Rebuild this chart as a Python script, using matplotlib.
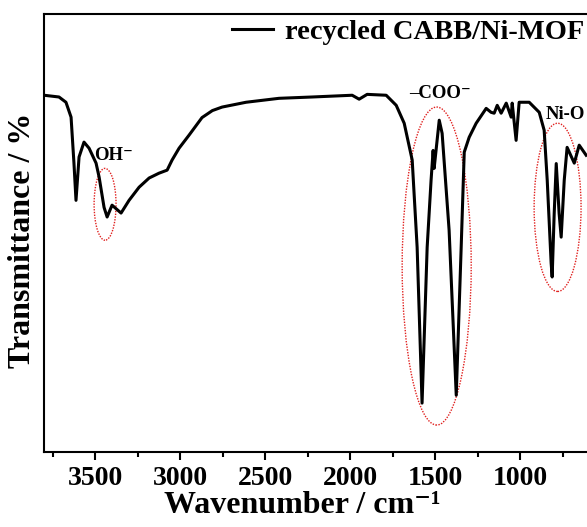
"""FTIR spectrum of recycled CABB/Ni-MOF with marked bands."""
import numpy as np
import matplotlib
matplotlib.use("Agg")
import matplotlib.pyplot as plt
from matplotlib.patches import Ellipse
from matplotlib.ticker import FixedLocator, MultipleLocator

plt.rcParams["font.family"] = ["Liberation Serif", "DejaVu Serif"]
plt.rcParams["font.weight"] = "bold"

# spectrum (wavenumber cm-1, transmittance in arbitrary %)
wavenumber = [3800, 3712, 3671, 3641, 3624, 3612, 3594, 3565, 3535, 3494,
              3476, 3447, 3429, 3400, 3347, 3300, 3241, 3182, 3124, 3076,
              3047, 3006, 2947, 2871, 2810, 2753, 2612, 2418, 2224, 1988, 1947,
              1900, 1788, 1729, 1682, 1635, 1606, 1577, 1547, 1524, 1512,
              1506, 1476, 1459, 1418, 1376, 1347, 1329, 1300, 1259, 1200,
              1171, 1153, 1135, 1112, 1082, 1053, 1047, 1024, 1006, 947,
              888, 859, 841, 818, 812, 800, 788, 771, 759, 741,
              724, 682, 653, 612]
transmittance = [81.5, 81.1, 79.9, 76.5, 66.0, 57.5, 67.4, 70.8, 69.4, 66.0,
                 62.8, 55.9, 53.7, 56.4, 54.6, 57.5, 60.5, 62.6, 63.7, 64.4,
                 66.7, 69.4, 72.4, 76.4, 78.0, 78.8, 79.9, 80.8, 81.1, 81.5, 80.6,
                 81.7, 81.5, 79.2, 75.1, 66.7, 46.8, 11.2, 46.8, 62.1, 68.9,
                 64.8, 75.8, 72.8, 50.7, 13.0, 46.8, 68.5, 71.9, 75.1, 78.5,
                 77.6, 77.4, 79.2, 77.4, 79.7, 76.5, 79.7, 71.2, 79.9, 79.9,
                 77.6, 73.5, 62.1, 43.2, 40.0, 54.5, 65.9, 54.5, 49.1, 62.1,
                 69.6, 66.0, 70.1, 67.8]

# band labels and their marking ellipses (center x, center y, width, height)
band_labels = ["OH⁻", "–COO⁻", "Ni-O"]
label_pos = [(3390, 67.8), (1470, 82.0), (735, 77.0)]
ellipses = [(3441, 56.6, 129, 16.4), (1491, 42.5, 406, 72.6), (780, 55.9, 276, 38.4)]
major_ticks = [3500, 3000, 2500, 2000, 1500, 1000]

fig = plt.figure(figsize=(5.87, 5.27), dpi=100)
ax = fig.add_axes([0.075, 0.142, 0.985, 0.831])

ax.plot(wavenumber, transmittance, color="black", lw=2.2,
        solid_joinstyle="round", label="recycled CABB/Ni-MOF")

for (cx, cy, w, h) in ellipses:
    ax.add_patch(Ellipse((cx, cy), w, h, fill=False, edgecolor="#e0201e",
                         ls=(0, (1, 1)), lw=1.0))
for txt, (x, y) in zip(band_labels, label_pos):
    ax.text(x, y, txt, ha="center", va="center", fontsize=13.5, fontweight="bold")

ax.set_xlim(3800, 400)
ax.set_ylim(0, 100)
ax.xaxis.set_major_locator(FixedLocator(major_ticks))
ax.xaxis.set_minor_locator(MultipleLocator(250))
ax.set_yticks([])
ax.spines["right"].set_visible(False)
for s in ax.spines.values():
    s.set_linewidth(1.5)
ax.tick_params(axis="x", which="major", direction="out", length=6, width=1.5,
               labelsize=20, pad=4)
ax.tick_params(axis="x", which="minor", direction="out", length=3.5, width=1.5)
for lab in ax.get_xticklabels():
    lab.set_fontweight("bold")

ax.set_xlabel("Wavenumber / cm⁻¹", fontsize=23, fontweight="bold")
ax.xaxis.set_label_coords(0.446, -0.088)
ax.set_ylabel("Transmittance / %", fontsize=23, fontweight="bold")
ax.yaxis.set_label_coords(-0.012, 0.484)

ax.legend(loc="center left", bbox_to_anchor=(232 / 587, 1 - 32 / 527),
          bbox_transform=fig.transFigure, frameon=False, borderpad=0,
          borderaxespad=0, handlelength=1.45, handletextpad=0.4,
          prop={"size": 20.5, "weight": "bold"})

fig.savefig("out.png", dpi=100)
